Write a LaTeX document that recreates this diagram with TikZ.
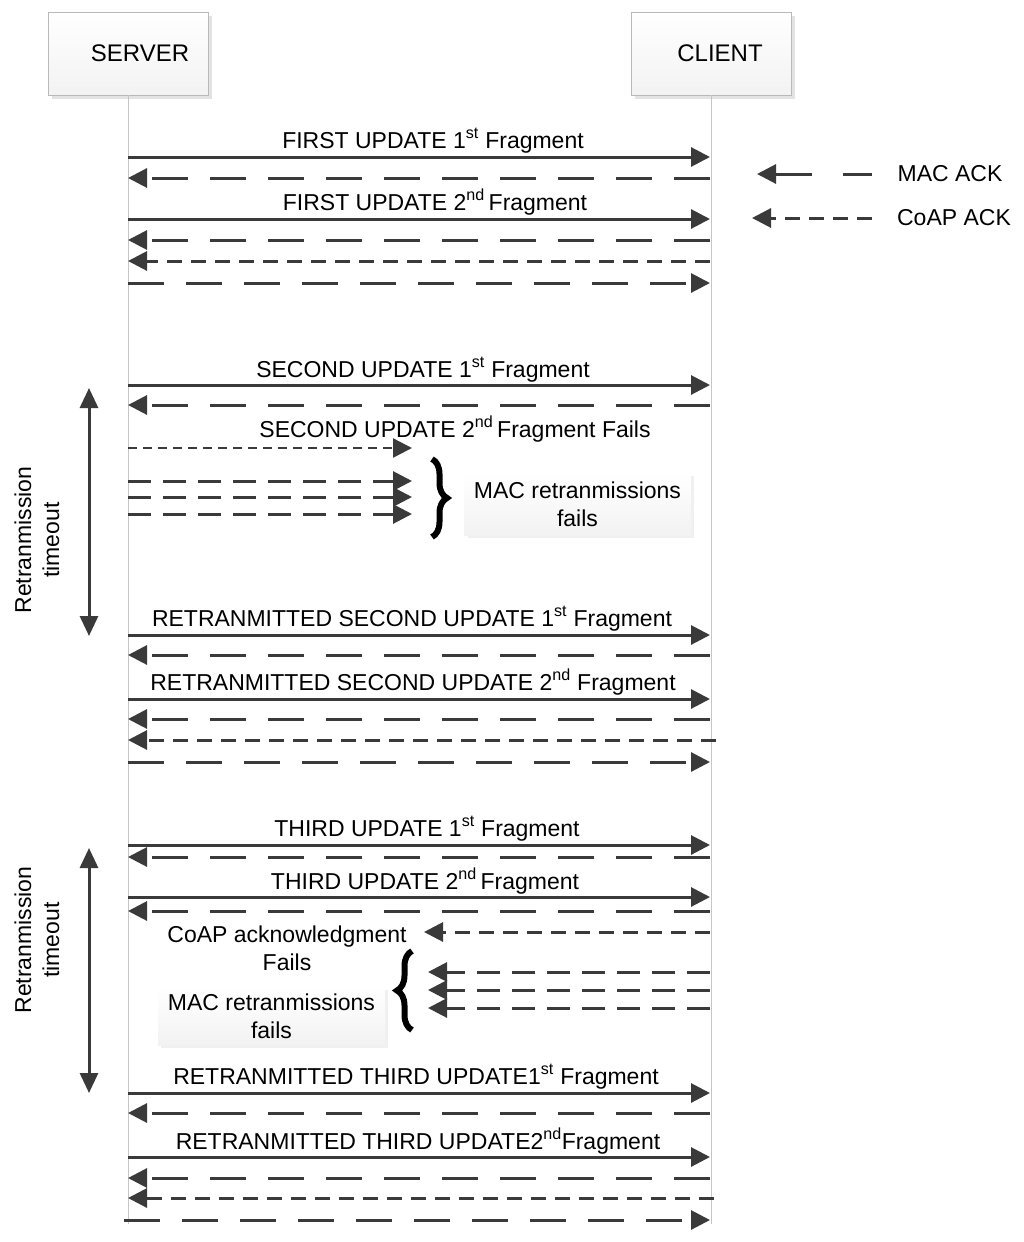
\documentclass[tikz,border=0pt]{standalone}
\usepackage{fontspec}
\setmainfont{Liberation Sans}
\usetikzlibrary{arrows.meta,decorations.pathreplacing,shadows}
\definecolor{arr}{HTML}{3A3A3A}
\begin{document}
\begin{tikzpicture}[x=1pt,y=-1pt,
  >={Triangle[length=19pt,width=19pt]},
  msg/.style={draw=arr,line width=3pt,->},
  mac/.style={msg,dash pattern=on 36pt off 22pt},
  coap/.style={msg,dash pattern=on 15pt off 9pt},
  fine/.style={msg,line width=2.4pt,dash pattern=on 9pt off 6pt},
  retry/.style={msg,dash pattern=on 23pt off 12pt},
  txt/.style={font=\fontsize{23}{28}\selectfont,inner sep=0pt},
  lbl/.style={txt,anchor=base},
  life/.style={draw=gray!45,line width=0.8pt},
  actor/.style={draw=gray!55,line width=0.8pt,top color=white,bottom color=gray!10,
    minimum width=160pt,minimum height=83pt,inner sep=0pt,
    font=\fontsize{24}{28}\selectfont,
    drop shadow={shadow xshift=4pt,shadow yshift=-4pt,fill=gray!22,opacity=1}},
  note/.style={top color=white,bottom color=gray!10,minimum width=226pt,minimum height=62pt,
    inner sep=0pt,align=center,font=\fontsize{23}{28}\selectfont,
    drop shadow={shadow xshift=3pt,shadow yshift=-3pt,fill=gray!12,opacity=1}},
  timer/.style={draw=arr,line width=3pt,<->,>={Triangle[length=20pt,width=18pt]}},
  curly/.style={draw=black,line width=6pt,decorate,decoration={brace,amplitude=15pt}}
]
\useasboundingbox (0,0) rectangle (1024,1242);

% actors and lifelines
\node[actor] (server) at (128,53.5) {\hspace*{24pt}SERVER};
\node[actor] (client) at (711,53.5) {\hspace*{18pt}CLIENT};
\coordinate (send) at (128,1224);
\coordinate (cend) at (711,1224);
\draw[life] (server.south) -- (send);
\draw[life] (client.south) -- (cend);

% legend
\coordinate (lm1) at (872,174); \coordinate (lm2) at (757,174);
\coordinate (lc1) at (872,218); \coordinate (lc2) at (752,218);
\draw[msg,dash pattern=on 29pt off 31pt on 120pt] (lm1) -- (lm2);
\draw[coap] (lc1) -- (lc2);
\node[txt] (legmac) at (950,174) {MAC ACK};
\node[txt] (legcoap) at (954,218) {CoAP ACK};

% endpoints on the lifelines
\foreach \n/\y in {a/157,b/178,c/219,d/240,e/261,f/283,
                   g/385,h/405,
                   i/635,j/655,k/699,l/719,m/740,n/762,
                   o/845,p/857,q/897,r/911,
                   s/1093,t/1113,u/1157,v/1178,w/1198}{
  \coordinate (S\n) at (128,\y);
  \coordinate (C\n) at (710,\y);
}
\coordinate (Sx) at (124,1220); \coordinate (Cx) at (710,1220);
\coordinate (Cm2) at (716,740); \coordinate (Cw2) at (714,1198);

% first update
\draw[msg] (Sa) -- (Ca);
\draw[mac] (Cb) -- (Sb);
\draw[msg] (Sc) -- (Cc);
\draw[mac] (Cd) -- (Sd);
\draw[coap] (Ce) -- (Se);
\draw[mac] (Sf) -- (Cf);
\node[lbl] (l1) at (433,148) {FIRST UPDATE 1\textsuperscript{st} Fragment};
\node[lbl] (l2) at (435,210) {FIRST UPDATE 2\textsuperscript{nd}\,Fragment};

% second update
\draw[msg] (Sg) -- (Cg);
\draw[mac] (Ch) -- (Sh);
\node[lbl] (l3) at (423,377) {SECOND UPDATE 1\textsuperscript{st} Fragment};
\node[lbl] (l4) at (455,437) {SECOND UPDATE 2\textsuperscript{nd}\,Fragment Fails};
\foreach \n/\y in {0/448,1/481,2/497,3/514}{
  \coordinate (F\n) at (128,\y);
  \coordinate (G\n) at (412,\y);
}
\draw[fine] (F0) -- (G0);
\draw[retry] (F1) -- (G1);
\draw[retry] (F2) -- (G2);
\draw[retry] (F3) -- (G3);
\coordinate (b1t) at (432,459); \coordinate (b1b) at (432,537);
\draw[curly] (b1t) -- (b1b);
\node[note] (fail1) at (577.5,504) {MAC retranmissions\\fails};

% timeout 1
\coordinate (t1a) at (89,388); \coordinate (t1b) at (89,636);
\draw[timer] (t1a) -- (t1b);
\node[txt,rotate=90,align=center] (to1) at (37,540) {Retranmission\\timeout};

% retransmitted second update
\draw[msg] (Si) -- (Ci);
\draw[mac] (Cj) -- (Sj);
\draw[msg] (Sk) -- (Ck);
\draw[mac] (Cl) -- (Sl);
\draw[coap] (Cm2) -- (Sm);
\draw[mac] (Sn) -- (Cn);
\node[lbl] (l5) at (412,626) {RETRANMITTED SECOND UPDATE 1\textsuperscript{st} Fragment};
\node[lbl] (l6) at (413,690) {RETRANMITTED SECOND UPDATE 2\textsuperscript{nd} Fragment};

% third update
\draw[msg] (So) -- (Co);
\draw[mac] (Cp) -- (Sp);
\draw[msg] (Sq) -- (Cq);
\draw[mac] (Cr) -- (Sr);
\node[lbl] (l7) at (427,836) {THIRD UPDATE 1\textsuperscript{st} Fragment};
\node[lbl] (l8) at (425,889) {THIRD UPDATE 2\textsuperscript{nd}\,Fragment};
\coordinate (H0) at (710,932); \coordinate (K0) at (424,932);
\draw[coap] (H0) -- (K0);
\foreach \n/\y in {1/972,2/990,3/1008}{
  \coordinate (H\n) at (710,\y);
  \coordinate (K\n) at (428,\y);
}
\draw[retry] (H1) -- (K1);
\draw[retry] (H2) -- (K2);
\draw[retry] (H3) -- (K3);
\node[txt,align=center] (coapfail) at (287,948) {CoAP acknowledgment\\Fails};
\coordinate (b2b) at (412,1030); \coordinate (b2t) at (412,951);
\draw[curly] (b2b) -- (b2t);
\node[note,minimum width=227pt,minimum height=58pt] (fail2) at (271.5,1016) {MAC retranmissions\\fails};

% timeout 2
\coordinate (t2a) at (89,848); \coordinate (t2b) at (89,1093);
\draw[timer] (t2a) -- (t2b);
\node[txt,rotate=90,align=center] (to2) at (37,940) {Retranmission\\timeout};

% retransmitted third update
\draw[msg] (Ss) -- (Cs);
\draw[mac] (Ct) -- (St);
\draw[msg] (Su) -- (Cu);
\draw[mac] (Cv) -- (Sv);
\draw[coap] (Cw2) -- (Sw);
\draw[mac] (Sx) -- (Cx);
\node[lbl] (l9) at (416,1084) {RETRANMITTED THIRD UPDATE1\textsuperscript{st} Fragment};
\node[lbl] (l10) at (418,1149) {RETRANMITTED THIRD UPDATE2\textsuperscript{nd}Fragment};
\end{tikzpicture}
\end{document}
